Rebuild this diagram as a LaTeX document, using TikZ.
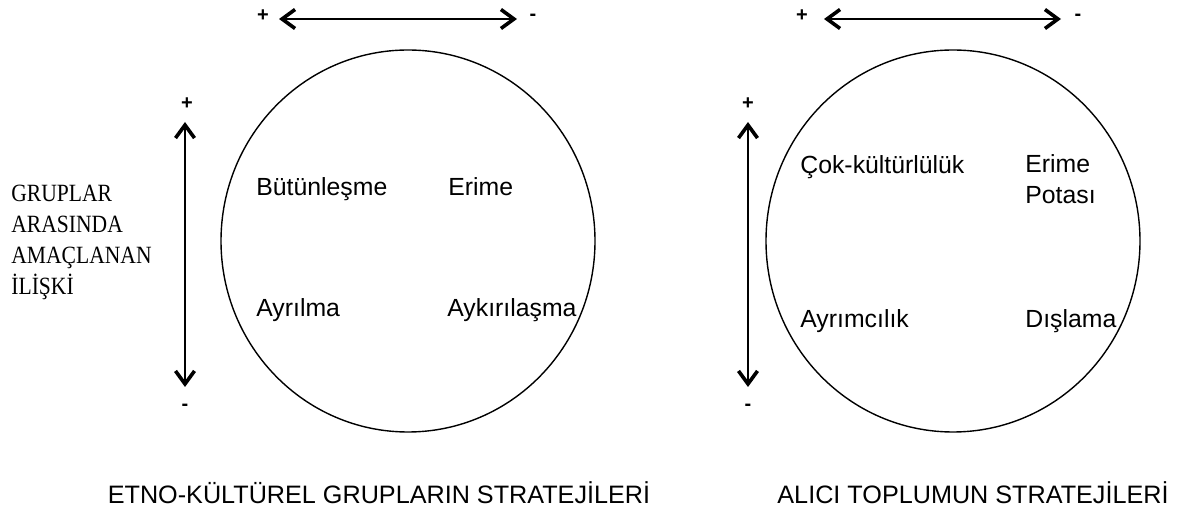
\documentclass[tikz,border=0pt]{standalone}
\usepackage{fontspec}
\usepackage{graphicx}
\setmainfont{Liberation Sans}
\newfontfamily\sidefont{Liberation Serif}
\usetikzlibrary{arrows.meta,positioning}
\tikzset{
  lbl/.style={inner sep=0pt, anchor=base west, font=\fontsize{12.4}{14}\selectfont},
  ttl/.style={inner sep=0pt, anchor=base, font=\fontsize{12.6}{14}\selectfont},
  sgn/.style={inner sep=0pt, font=\bfseries\fontsize{10}{11}\selectfont},
}
\begin{document}
\begin{tikzpicture}[x=0.5pt, y=-0.5pt, line join=round, line cap=round,
    >={Straight Barb[length=6.5pt,width=9.5pt,line width=1.8pt]}]
    \useasboundingbox (0,0) rectangle (1180,513);
    % left circle
    \coordinate (lc) at (408,241);
    \draw[line width=.7pt] (lc) ellipse [x radius=187, y radius=191];
    \coordinate (lh1) at (279,19);
    \coordinate (lh2) at (517,19);
    \coordinate (lv1) at (185,122);
    \coordinate (lv2) at (185,387);
    \draw[<->, line width=.8pt] (lh1) -- (lh2);
    \draw[<->, line width=.8pt] (lv1) -- (lv2);
    \node[sgn] (lhp) at (263,16) {+};
    \node[sgn] (lhm) at (533,17) {-};
    \node[sgn] (lvp) at (187,104) {+};
    \node[sgn] (lvm) at (185,407) {-};
    \node[lbl] (but) at (256,196) {Bütünleşme};
    \node[lbl] (eri) at (448,196) {Erime};
    \node[lbl] (ayr) at (256,317) {Ayrılma};
    \node[lbl] (ayk) at (447,317) {Aykırılaşma};
    \node[inner sep=0pt, anchor=base west, font=\sidefont\fontsize{12.4}{15.5}\selectfont]
        (rel) at (11,202) {\scalebox{.87}[1]{\begin{tabular}[t]{@{}l@{}}GRUPLAR\\ARASINDA\\AMAÇLANAN\\İLİŞKİ\end{tabular}}};
    \node[ttl] (etno) at (379,504) {ETNO-KÜLTÜREL GRUPLARIN STRATEJİLERİ};
    % right circle
    \coordinate (rc) at (953,241);
    \draw[line width=.7pt] (rc) ellipse [x radius=187, y radius=191];
    \coordinate (rh1) at (824,19);
    \coordinate (rh2) at (1061,19);
    \coordinate (rv1) at (748,122);
    \coordinate (rv2) at (748,387);
    \draw[<->, line width=.8pt] (rh1) -- (rh2);
    \draw[<->, line width=.8pt] (rv1) -- (rv2);
    \node[sgn] (rhp) at (802,16) {+};
    \node[sgn] (rhm) at (1078,17) {-};
    \node[sgn] (rvp) at (748,104) {+};
    \node[sgn] (rvm) at (748,407) {-};
    \node[lbl] (cok) at (800,174) {Çok-kültürlülük};
    \node[lbl] (erp) at (1025,173) {Erime};
    \node[lbl] (pot) at (1025,204) {Potası};
    \node[lbl] (ayc) at (800,328) {Ayrımcılık};
    \node[lbl] (dis) at (1025,328) {Dışlama};
    \node[ttl] (alici) at (973,504) {ALICI TOPLUMUN STRATEJİLERİ};
\end{tikzpicture}
\end{document}
